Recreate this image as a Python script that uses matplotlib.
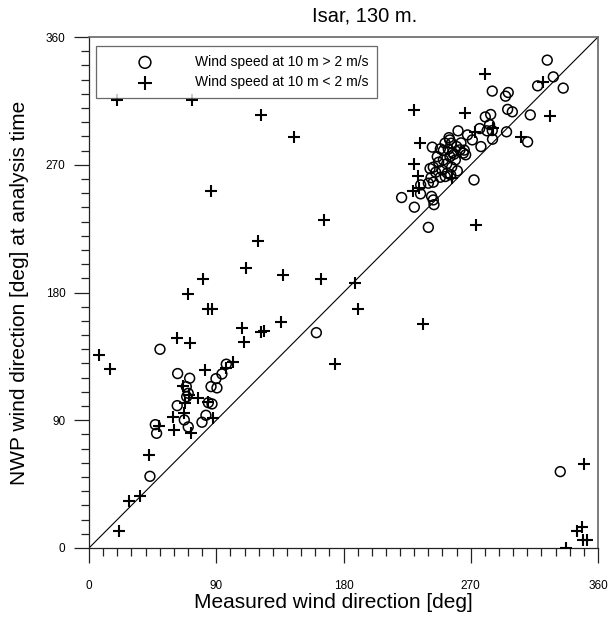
import matplotlib
matplotlib.use("Agg")
import matplotlib.pyplot as plt
from matplotlib.ticker import MultipleLocator

plt.rcParams["font.family"] = ["Liberation Sans", "DejaVu Sans"]

# Wind speed at 10 m > 2 m/s : (measured, NWP) direction in degrees
strong_measured = [
    50.2, 62.7, 71.2, 68.8, 70.2, 69.1, 62.4, 67.4, 70.2, 46.9, 47.8, 43.1,
    97.1, 94.0, 89.8, 86.3, 90.5, 84.4, 87.0, 82.7, 79.9, 160.8, 333.3,
    324.1, 328.4, 335.4, 317.3, 285.2, 296.5, 294.6, 296.1, 299.4, 312.1,
    280.3, 284.1, 283.3, 285.2, 276.3, 281.5, 295.3, 310.2, 285.4, 277.2,
    271.1, 267.7, 261.0, 242.8, 248.5, 251.8, 255.1, 256.3, 263.1, 265.4,
    266.4, 272.3, 221.1, 234.5, 230.1, 242.3, 243.5, 244.0, 240.0,
    246.3, 250.6, 255.3, 258.1, 259.1, 253.0, 256.5, 260.5, 247.3, 243.5,
    241.2, 245.2, 249.6, 253.4, 248.5, 252.0, 255.8, 240.0, 243.5, 234.6,
    254.1, 257.1, 250.6, 262.4, 264.7, 260.0, 254.6, 241.9,
]
strong_nwp = [
    140.0, 122.9, 119.6, 113.7, 109.0, 106.6, 100.3, 90.2, 85.3, 86.9, 80.8, 50.5,
    129.5, 122.6, 119.3, 113.7, 112.8, 102.4, 101.5, 93.5, 88.6, 151.7, 53.8,
    343.7, 331.9, 324.0, 325.6, 321.9, 320.9, 318.3, 309.0, 307.3, 305.1,
    303.7, 305.4, 298.3, 294.1, 295.5, 293.9, 293.2, 286.1, 288.0, 282.8,
    287.5, 291.0, 293.9, 282.4, 281.2, 285.2, 287.5, 285.2, 285.4, 280.3,
    277.0, 259.3, 246.9, 249.5, 240.1, 247.7, 245.2, 241.9, 225.9,
    275.7, 273.4, 275.7, 277.4, 273.4, 270.6, 268.3, 265.7, 271.8, 268.3,
    267.3, 264.7, 266.4, 264.1, 261.2, 261.7, 262.9, 257.0, 257.7, 255.8,
    281.0, 278.6, 280.0, 280.5, 278.2, 282.8, 289.1, 260.9,
]

# Wind speed at 10 m < 2 m/s : (measured, NWP) direction in degrees
weak_measured = [
    20.0, 73.1, 121.9, 145.0, 86.5, 166.2, 119.7, 110.8, 137.0, 164.1, 188.1,
    80.4, 70.0, 84.4, 87.2, 190.0, 108.0, 121.6, 123.5, 136.0, 109.8, 62.4,
    71.4, 7.1, 15.1, 82.0, 102.1, 96.9, 66.7, 70.7, 76.8, 68.1, 84.4, 87.4,
    59.6, 66.9, 49.2, 59.8, 72.1, 42.6, 28.5, 36.1, 21.4, 173.8,
    280.0, 320.8, 326.0, 285.4, 273.0, 305.2, 230.1, 266.1, 234.1, 229.8,
    232.9, 229.4, 233.6, 273.4, 256.5, 235.9,
    350.1, 348.9, 344.8, 349.6, 351.9, 337.6,
]
weak_nwp = [
    315.7, 315.7, 304.9, 289.4, 251.6, 231.1, 216.4, 197.5, 192.4, 189.3, 186.5,
    189.3, 179.0, 168.4, 168.4, 168.4, 155.0, 152.4, 153.1, 159.0, 145.4, 148.0,
    144.2, 135.8, 126.1, 125.7, 130.9, 126.6, 114.2, 107.8, 106.0, 102.4, 103.1, 91.4,
    92.3, 94.9, 86.2, 83.0, 81.3, 65.8, 33.3, 36.9, 12.0, 129.5,
    333.6, 328.4, 304.6, 296.2, 293.4, 289.4, 308.9, 306.3, 285.2, 270.6,
    262.2, 251.6, 253.5, 227.8, 260.5, 158.1,
    59.0, 14.8, 12.2, 5.6, 5.6, 0.0,
]

ticks_major = [0, 90, 180, 270, 360]

fig = plt.figure(figsize=(6.12, 6.26), dpi=100)
ax = fig.add_axes([89 / 612, 1 - 548 / 626, 509 / 612, 511 / 626])

ax.plot([0, 360], [0, 360], color="black", lw=0.8, zorder=1)
ax.scatter(strong_measured, strong_nwp, s=50, facecolors="none",
           edgecolors="black", linewidths=1.1, marker="o", zorder=3,
           label="Wind speed at 10 m > 2 m/s")
ax.scatter(weak_measured, weak_nwp, s=70, color="black", linewidths=1.5,
           marker="+", zorder=3, label="Wind speed at 10 m < 2 m/s")

ax.set_xlim(0, 360)
ax.set_ylim(0, 360)
ax.set_xticks(ticks_major)
ax.set_yticks(ticks_major)
ax.xaxis.set_minor_locator(MultipleLocator(10))
ax.yaxis.set_minor_locator(MultipleLocator(10))
ax.tick_params(which="major", direction="out", length=11, width=0.9,
               labelsize=8.5, color="#222222")
ax.tick_params(which="minor", direction="out", length=6, width=0.9,
               color="#222222")
ax.tick_params(axis="x", which="major", pad=12)
ax.tick_params(axis="y", which="major", pad=6)

for side in ["left", "bottom"]:
    ax.spines[side].set_color("#222222")
    ax.spines[side].set_linewidth(0.9)
for side in ["top", "right"]:
    ax.spines[side].set_color("#666666")
    ax.spines[side].set_linewidth(1.2)

ax.set_xlabel("Measured wind direction [deg]", fontsize=15)
ax.xaxis.set_label_coords(0.48, -0.088)
ax.set_ylabel("NWP wind direction [deg] at analysis time", fontsize=15)
ax.yaxis.set_label_coords(-0.117, 0.5)
fig.text(365 / 612, 1 - 16 / 626, "Isar, 130 m.", ha="center", va="center",
         fontsize=14.5)

leg = ax.legend(loc="upper left", bbox_to_anchor=(0.0138, 0.9824), fontsize=10,
                frameon=True, fancybox=False, edgecolor="#444444",
                borderpad=0.65, handletextpad=0.72, labelspacing=0.45,
                borderaxespad=0, markerscale=1.2, handlelength=5.75)
leg.get_frame().set_linewidth(0.9)

fig.savefig("out.png", dpi=100)
